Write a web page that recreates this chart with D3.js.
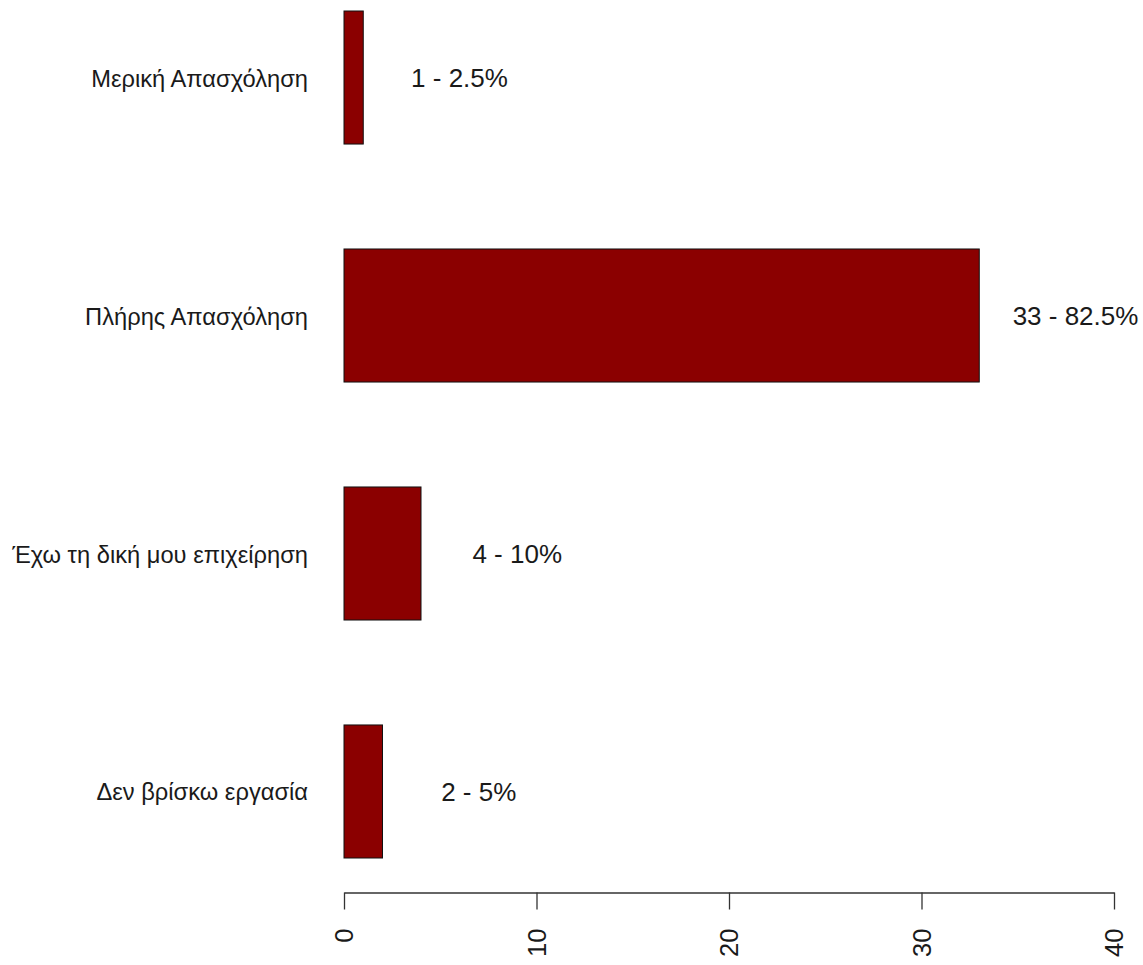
<!DOCTYPE html>
<html><head><meta charset="utf-8">
<script src="https://cdn.jsdelivr.net/npm/d3@7"></script>
<style>body{margin:0;background:#fff}svg{display:block}text{font-family:"Liberation Sans",Arial,sans-serif;fill:#1a1a1a}</style>
</head><body>
<script>
const categories = ["Μερική Απασχόληση","Πλήρης Απασχόληση","Έχω τη δική μου επιχείρηση","Δεν βρίσκω εργασία"];
const counts = [1,33,4,2];
const percents = ["2.5%","82.5%","10%","5%"];
const tickValues = [0,10,20,30,40];

const W=1143,H=965;
const svg=d3.select("body").append("svg").attr("width",W).attr("height",H);
const x=d3.scaleLinear().domain([0,40]).range([344,1114]);
const y=d3.scaleBand().domain(categories).range([11,858]).paddingInner(0.441).paddingOuter(0);

svg.selectAll("rect.bar").data(categories).join("rect").attr("class","bar")
  .attr("x",x(0)).attr("y",d=>y(d)).attr("width",(d,i)=>x(counts[i])-x(0)).attr("height",y.bandwidth())
  .attr("fill","#8B0000").attr("stroke","#111").attr("stroke-width",1);

svg.selectAll("text.val").data(categories).join("text").attr("class","val")
  .attr("x",(d,i)=>x(counts[i]+5)).attr("y",d=>y(d)+y.bandwidth()/2).attr("dy","0.35em")
  .attr("text-anchor","middle").attr("font-size",26)
  .text((d,i)=>counts[i]+" - "+percents[i]);

svg.selectAll("text.cat").data(categories).join("text").attr("class","cat")
  .attr("x",308).attr("y",d=>y(d)+y.bandwidth()/2).attr("dy","0.38em")
  .attr("text-anchor","end").attr("font-size",23.7).text(d=>d);

const ax=svg.append("g").attr("transform","translate(0,892.5)")
  .call(d3.axisBottom(x).tickValues(tickValues).tickSize(17).tickSizeOuter(0).tickFormat(d3.format("d")));
ax.select(".domain").attr("stroke","#333").attr("stroke-width",1.3);
ax.selectAll(".tick line").attr("stroke","#333").attr("stroke-width",1.3);
ax.selectAll(".tick text").attr("font-size",25.5).attr("fill","#1a1a1a")
  .attr("transform","rotate(-90)").attr("text-anchor","end").attr("x",-36).attr("y",0).attr("dy","0.35em")
  .style("font-family","'Liberation Sans',Arial,sans-serif");
</script>
</body></html>
